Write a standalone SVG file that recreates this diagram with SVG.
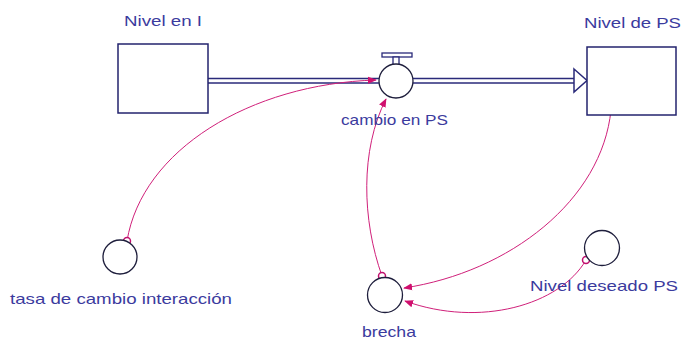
<svg xmlns="http://www.w3.org/2000/svg" width="681" height="343" viewBox="0 0 681 343">
<defs>
<style>
.lbl{font-family:"Liberation Sans",Arial,sans-serif;font-size:15px;fill:#3b3b9e}
.box{fill:#fff;stroke:#23236e;stroke-width:1.5}
.aux{fill:#fff;stroke:#1e1e3c;stroke-width:1.3}
.pipe{fill:none;stroke:#2a2a7a;stroke-width:1.5}
.link{fill:none;stroke:#d0207a;stroke-width:1}
.org{fill:#fff;stroke:#c0106e;stroke-width:1.5}
</style>
<marker id="ah" viewBox="0 0 10 10" refX="9" refY="5" markerWidth="9" markerHeight="9" markerUnits="userSpaceOnUse" orient="auto">
<path d="M0,1 L10,5 L0,9 Z" fill="#d0106e"/>
</marker>
</defs>
<rect width="681" height="343" fill="#fff"/>

<g id="connectors">
<!-- flow pipes -->
<line class="pipe" x1="208" y1="78.5" x2="379" y2="78.5"/>
<line class="pipe" x1="208" y1="83" x2="379" y2="83"/>
<line class="pipe" x1="413" y1="78.5" x2="575" y2="78.5"/>
<line class="pipe" x1="413" y1="83" x2="575" y2="83"/>
<path d="M574,69 L587,80.5 L574,92 Z" fill="#fff" stroke="#2a2a7a" stroke-width="1.5"/>
<!-- links -->
<path class="link" d="M127,241 C142,150 250,84 376,80" marker-end="url(#ah)"/>
<path class="link" d="M382,276 C362,220 360,150 386,99" marker-end="url(#ah)"/>
<path class="link" d="M611,110 C602,200 510,272 404,288" marker-end="url(#ah)"/>
<path class="link" d="M586,260 C560,305 480,328 405,301" marker-end="url(#ah)"/>
<circle class="org" cx="127" cy="241" r="3.5"/>
<circle class="org" cx="382" cy="276" r="3.5"/>
<circle class="org" cx="611" cy="109" r="3.5"/>
<circle class="org" cx="586" cy="260" r="3.5"/>
</g>

<g id="nivel-en-i">
<rect class="box" x="118" y="44" width="90" height="69"/>
<text class="lbl" x="124" y="26" textLength="78" lengthAdjust="spacingAndGlyphs">Nivel en I</text>
</g>

<g id="nivel-de-ps">
<rect class="box" x="587" y="47" width="89" height="68"/>
<text class="lbl" x="584" y="28" textLength="97" lengthAdjust="spacingAndGlyphs">Nivel de PS</text>
</g>

<g id="cambio-en-ps">
<rect x="382" y="53" width="30" height="4" fill="#fff" stroke="#2a2a7a" stroke-width="1.3"/>
<rect x="393" y="57" width="6" height="8" fill="#fff" stroke="#2a2a7a" stroke-width="1.3"/>
<circle class="aux" cx="396" cy="81" r="17"/>
<text class="lbl" x="341" y="125" textLength="107" lengthAdjust="spacingAndGlyphs">cambio en PS</text>
</g>

<g id="tasa-de-cambio-interaccion">
<circle class="aux" cx="120" cy="257" r="17"/>
<text class="lbl" x="10" y="304" textLength="222" lengthAdjust="spacingAndGlyphs">tasa de cambio interacción</text>
</g>

<g id="brecha">
<circle class="aux" cx="385" cy="295" r="17.5"/>
<text class="lbl" x="362" y="337" textLength="54" lengthAdjust="spacingAndGlyphs">brecha</text>
</g>

<g id="nivel-deseado-ps">
<circle class="aux" cx="602" cy="248" r="17.5"/>
<text class="lbl" x="530" y="291" textLength="148" lengthAdjust="spacingAndGlyphs">Nivel deseado PS</text>
</g>
</svg>
